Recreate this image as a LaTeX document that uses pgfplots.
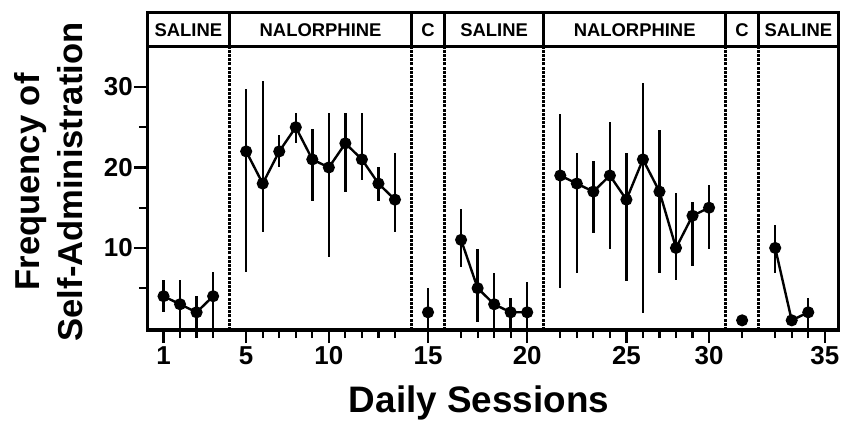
\documentclass[border=0pt]{standalone}
\usepackage{fontspec}
\setmainfont{Liberation Sans}
\usepackage{pgfplots}
\pgfplotsset{compat=1.18}

% x is a slot index: each session takes one slot, each phase divider one more
\pgfplotstableread{
p v ep em
1 4 2 2
2 3 3 3
3 2 2 2
4 4 3 4
}\salineA
\pgfplotstableread{
p v ep em
6 22 7.7 15
7 18 12.8 6
8 22 2 2
9 25 1.8 2
10 21 3.8 5.2
11 20 6.8 11.1
12 23 3.8 6
13 21 5.8 2.5
14 18 2 2.2
15 16 5.8 4
}\nalA
\pgfplotstableread{
p v ep em
17 2 3 2
}\ctrlA
\pgfplotstableread{
p v ep em
19 11 3.8 3.4
20 5 4.9 4.2
21 3 3.9 3
22 2 1.8 2
23 2 3.8 2
}\salineB
\pgfplotstableread{
p v ep em
25 19 7.6 14
26 18 3.8 11.1
27 17 3.8 5.1
28 19 6.6 9.1
29 16 5.8 10.1
30 21 9.5 19.1
31 17 7.7 10.1
32 10 6.8 4
33 14 1.7 6.2
34 15 2.8 5.1
}\nalB
\pgfplotstableread{
p v ep em
36 1 0 0
}\ctrlB
\pgfplotstableread{
p v ep em
38 10 2.9 3.1
39 1 0 0
40 2 1.8 2
}\salineC

\pgfplotsset{
  sess/.style={
    black, solid, line width=2.4bp,
    mark=*, mark size=4.8bp, mark options={fill=black},
    error bars/y dir=both, error bars/y explicit, error bars/error mark=none,
    error bars/error bar style={line width=2.4bp}
  }
}
\tikzset{hdr/.style={font=\bfseries\fontsize{18.5}{18.5}\selectfont}}

\begin{document}
\begin{tikzpicture}
\path[use as bounding box] (0,0) rectangle (842bp,425bp);
\begin{axis}[
  at={(147bp,95bp)}, anchor=south west,
  scale only axis,
  width=691bp, height=317bp,
  xmin=0, xmax=41.8,
  ymin=-0.2, ymax=39.2,
  axis line style={line width=3bp, line join=miter},
  xtick={1,6,11,17,23,29,34,41},
  xticklabels={1,5,10,15,20,25,30,35},
  minor xtick={2,3,4,7,8,9,10,12,13,14,15,19,20,21,22,25,26,27,28,30,31,32,33,36,38,39,40},
  ytick={10,20,30},
  yticklabels={10,20,30},
  minor ytick={5,15,25},
  xtick pos=bottom, ytick pos=left,
  tick align=outside,
  major tick length=13bp, minor tick length=8bp,
  tick style={line width=2.2bp, black},
  /pgf/number format/assume math mode=true,
  ticklabel style={font=\bfseries\fontsize{26}{26}\selectfont},
  yticklabel style={inner xsep=1bp},
  xlabel={Daily Sessions},
  xlabel style={at={(axis description cs:0.4805,-0.2618)}, anchor=base,
    font=\bfseries\fontsize{37}{40}\selectfont},
  ylabel={Frequency of\\Self-Administration},
  ylabel style={at={(axis description cs:-0.1418,0.467)}, anchor=center,
    inner sep=0pt, align=center,
    font=\bfseries\fontsize{34.7}{43}\selectfont},
  clip=false,
]
% header band and phase dividers
\draw[line width=3bp] (axis cs:0,35) -- (axis cs:41.8,35);
\pgfplotsinvokeforeach{5,16,18,24,35,37}{
  \draw[line width=3.2bp] (axis cs:#1,35) -- (axis cs:#1,39.2);
  \draw[line width=3.2bp, dash pattern=on 3bp off 1.2bp] (axis cs:#1,-0.2) -- (axis cs:#1,35);
}
\node[hdr] at (axis cs:2.5,37.1) {SALINE};
\node[hdr] at (axis cs:10.5,37.1) {NALORPHINE};
\node[hdr] at (axis cs:17,37.1) {C};
\node[hdr] at (axis cs:21,37.1) {SALINE};
\node[hdr] at (axis cs:29.5,37.1) {NALORPHINE};
\node[hdr] at (axis cs:36,37.1) {C};
\node[hdr] at (axis cs:39.4,37.1) {SALINE};

\addplot[sess] table[x=p, y=v, y error plus=ep, y error minus=em] {\salineA};
\addplot[sess] table[x=p, y=v, y error plus=ep, y error minus=em] {\nalA};
\addplot[sess] table[x=p, y=v, y error plus=ep, y error minus=em] {\ctrlA};
\addplot[sess] table[x=p, y=v, y error plus=ep, y error minus=em] {\salineB};
\addplot[sess] table[x=p, y=v, y error plus=ep, y error minus=em] {\nalB};
\addplot[sess] table[x=p, y=v, y error plus=ep, y error minus=em] {\ctrlB};
\addplot[sess] table[x=p, y=v, y error plus=ep, y error minus=em] {\salineC};
\end{axis}
\end{tikzpicture}
\end{document}
